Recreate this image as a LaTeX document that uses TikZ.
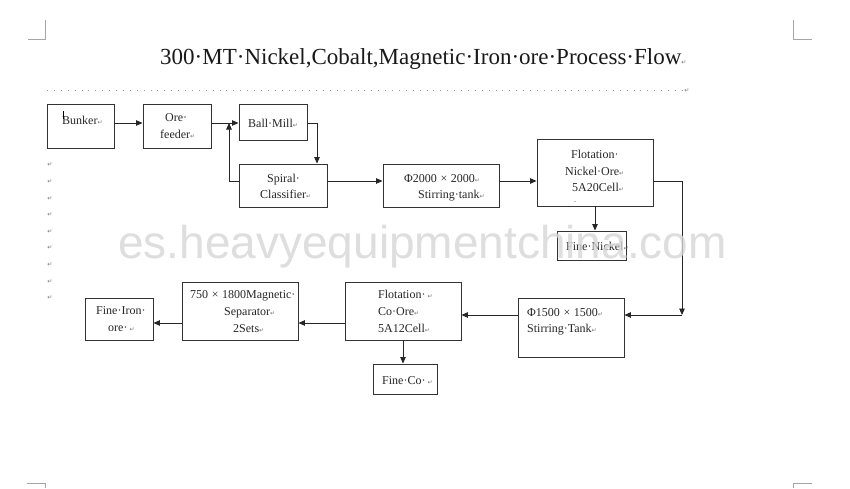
\documentclass[tikz,border=0pt]{standalone}
\usepackage{fontspec}
\setmainfont{Liberation Serif}
\newfontfamily\djv{DejaVu Sans}
\newfontfamily\wmfont{Liberation Sans}
\usetikzlibrary{arrows.meta}
\newcommand\rt{{\djv\fontsize{6}{6}\selectfont\textcolor{black!55}{↵}}}
\newcommand\xx{\hspace{0.3em}×\hspace{0.3em}}
\begin{document}
\begin{tikzpicture}[x=1pt,y=-1pt,
  box/.style n args={2}{draw=black!80, line width=0.9pt, inner sep=0pt, minimum width=#1pt, minimum height=#2pt},
  txt/.style={font=\fontsize{12}{12}\selectfont, inner sep=0pt, anchor=base west, text=black!85},
  arr/.style={draw=black!85, line width=0.9pt, -{Triangle[length=6.5pt,width=5.5pt]}},
  crop/.style={draw=black!35, line width=0.8pt},
  pmark/.style={inner sep=0pt, anchor=center}]
\useasboundingbox[fill=white] (0,0) rectangle (850,488);

% crop marks
\draw[crop] (28,39) -- (45,39) -- (45,20);
\draw[crop] (812,39) -- (793,39) -- (793,20);
\draw[crop] (27,483) -- (45,483) -- (45,488);
\draw[crop] (812,483) -- (793,483) -- (793,488);

% title and dotted rule
\node[txt, font=\fontsize{23}{23}\selectfont, text=black!90] (title) at (160,64) {300·MT·Nickel,Cobalt,Magnetic·Iron·ore·Process·Flow\rt};
\coordinate (dl) at (47,90);
\coordinate (dr) at (682,90);
\draw[draw=black!40, line width=0.9pt, dash pattern=on 0.9pt off 6pt] (dl) -- (dr);
\node[pmark] (dmark) at (687,91) {\rt};

% paragraph marks down the left margin
\foreach \k in {0,...,8} {
  \node[pmark] (pm\k) at (50,165+16.6*\k) {\rt};
}

% boxes
\node[box={67}{44}] (bunker) at (80.5,126) {};
\node[box={68}{44}] (feeder) at (177,126) {};
\node[box={68}{36}] (mill) at (273,122) {};
\node[box={88}{43}] (spiral) at (283,185.5) {};
\node[box={116}{43}] (stir1) at (441,185.5) {};
\node[box={116}{67}] (flot1) at (595,172.5) {};
\node[box={69}{29}] (nickel) at (591.5,245.5) {};
\node[box={106}{59}] (stir2) at (571,327.5) {};
\node[box={116}{58}] (flot2) at (403,311) {};
\node[box={116}{58}] (mag) at (240,311) {};
\node[box={68}{42}] (iron) at (119,319) {};
\node[box={64}{30}] (fineco) at (405,379) {};

% texts
\node[txt] (t1) at (62,124) {Bunker\rt};
\draw[black, line width=0.7pt] (63,111) -- (63,119);
\node[txt] (t2a) at (165,121) {Ore·};
\node[txt] (t2b) at (160,138) {feeder\rt};
\node[txt] (t3) at (248,127) {Ball·Mill\rt};
\node[txt] (t4a) at (267,182) {Spiral·};
\node[txt] (t4b) at (260,198) {Classifier\rt};
\node[txt] (t5a) at (404,182) {Φ2000\xx2000\rt};
\node[txt] (t5b) at (418,198) {Stirring·tank\rt};
\node[txt] (t6a) at (571,158) {Flotation·};
\node[txt] (t6b) at (565,175) {Nickel·Ore\rt};
\node[txt] (t6c) at (572,191) {5A20Cell\rt};
\node[txt, font=\fontsize{8}{8}\selectfont] (t6d) at (574,202) {.};
\node[txt] (t7) at (566,250) {Fine·Nickel\rt};
\node[txt] (t8a) at (527,316) {Φ1500\xx1500\rt};
\node[txt] (t8b) at (527,332) {Stirring·Tank\rt};
\node[txt] (t9a) at (378,298) {Flotation·\,\rt};
\node[txt] (t9b) at (378,315) {Co·Ore\rt};
\node[txt] (t9c) at (378,332) {5A12Cell\rt};
\node[txt] (t10a) at (190,298) {750\xx1800Magnetic·};
\node[txt] (t10b) at (224,315) {Separator\rt};
\node[txt] (t10c) at (233,332) {2Sets\rt};
\node[txt] (t11a) at (96,314) {Fine·Iron·};
\node[txt] (t11b) at (108,331) {ore·\,\rt};
\node[txt] (t12) at (382,384) {Fine·Co·\,\rt};

% connector helpers
\coordinate (r1) at (0,123);
\coordinate (r2) at (0,181);
\coordinate (r3a) at (0,315);
\coordinate (r3b) at (0,323);
\coordinate (mdrop) at (317,0);
\coordinate (loop) at (229,123);
\coordinate (turn) at (682,315);

% connectors
\draw[arr] (bunker.east |- r1) -- (feeder.west |- r1);
\draw[arr] (feeder.east |- r1) -- (mill.west |- r1);
\draw[arr] (mill.east |- r1) -| (mdrop |- spiral.north);
\draw[arr] (spiral.west |- r2) -| (loop);
\draw[arr] (spiral.east |- r2) -- (stir1.west |- r2);
\draw[arr] (stir1.east |- r2) -- (flot1.west |- r2);
\draw[arr] (flot1.south) -- (nickel.north -| flot1.south);
\draw[arr] (flot1.east |- r2) -| (turn);
\draw[arr] (turn) -- (stir2.east |- turn);
\draw[arr] (stir2.west |- r3a) -- (flot2.east |- r3a);
\draw[arr] (flot2.west |- r3b) -- (mag.east |- r3b);
\draw[arr] (mag.west |- r3b) -- (iron.east |- r3b);
\draw[arr] (flot2.south) -- (fineco.north -| flot2.south);

% watermark
\node[inner sep=0pt, anchor=base west, font=\wmfont\fontsize{46}{46}\selectfont, text=black!16, opacity=0.8] (wm) at (118,258) {es.heavyequipmentchina.com};
\end{tikzpicture}
\end{document}
